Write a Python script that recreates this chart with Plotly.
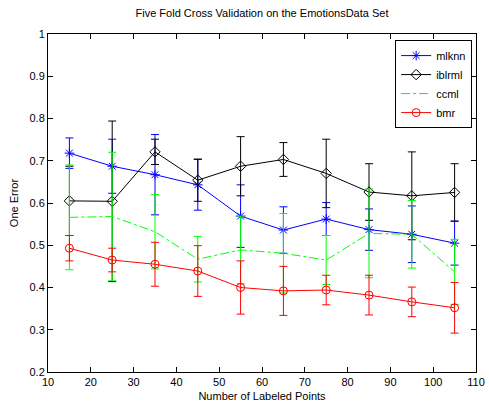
import plotly.graph_objects as go

x_points = [15, 25, 35, 45, 55, 65, 75, 85, 95, 105]

mlknn = [0.718, 0.687, 0.667, 0.643, 0.569, 0.536, 0.562, 0.537, 0.526, 0.505]
mlknn_err = [0.036, 0.064, 0.095, 0.060, 0.074, 0.055, 0.039, 0.049, 0.067, 0.052]

iblrml = [0.605, 0.604, 0.721, 0.654, 0.687, 0.703, 0.670, 0.626, 0.617, 0.625]
iblrml_err = [0.082, 0.190, 0.030, 0.050, 0.070, 0.040, 0.081, 0.067, 0.104, 0.068]

ccml = [0.566, 0.568, 0.532, 0.467, 0.489, 0.481, 0.465, 0.528, 0.526, 0.437]
ccml_err = [0.124, 0.152, 0.088, 0.054, 0.080, 0.094, 0.058, 0.105, 0.080, 0.077]

bmr = [0.493, 0.465, 0.455, 0.439, 0.400, 0.392, 0.394, 0.382, 0.366, 0.352]
bmr_err = [0.030, 0.028, 0.052, 0.060, 0.063, 0.058, 0.035, 0.047, 0.035, 0.060]

y_ticks = [0.2, 0.3, 0.4, 0.5, 0.6, 0.7, 0.8, 0.9, 1.0]
y_ticktext = ["0.2", "0.3", "0.4", "0.5", "0.6", "0.7", "0.8", "0.9", "1"]
x_ticks = [10, 20, 30, 40, 50, 60, 70, 80, 90, 100, 110]

FONT = "Liberation Sans, Arial, Helvetica, sans-serif"

series = [
    ("mlknn", mlknn, mlknn_err, "#0000FF", "solid", "asterisk-open", 8),
    ("iblrml", iblrml, iblrml_err, "#000000", "solid", "diamond-open", 8),
    ("ccml", ccml, ccml_err, "#00FF00", "dashdot", None, 0),
    ("bmr", bmr, bmr_err, "#FF0000", "solid", "circle-open", 8),
]

fig = go.Figure()
for name, vals, errs, color, dash, sym, size in series:
    mode = "lines+markers" if sym else "lines"
    kw = {}
    if sym:
        kw["marker"] = dict(symbol=sym, size=size, color=color,
                            line=dict(color=color, width=1))
    fig.add_trace(go.Scatter(
        x=x_points, y=vals, name=name, mode=mode,
        line=dict(color=color, width=1, dash=dash),
        error_y=dict(type="data", array=errs, visible=True,
                     color=color, thickness=1, width=4),
        **kw,
    ))

axis_common = dict(
    showline=True, linecolor="black", linewidth=1, mirror="allticks",
    ticks="inside", ticklen=5, tickcolor="black", tickwidth=1,
    showgrid=False, zeroline=False, automargin=False,
    tickfont=dict(family=FONT, size=11, color="black"),
)

fig.update_layout(
    width=489, height=407,
    margin=dict(l=48, r=13, t=34, b=35),
    paper_bgcolor="white", plot_bgcolor="white",
    font=dict(family=FONT, size=11, color="black"),
    title=dict(text="Five Fold Cross Validation on the EmotionsData Set",
               x=(48 + 476) / 2 / 489, xanchor="center",
               y=1 - 13 / 407, yanchor="middle", yref="container",
               font=dict(family=FONT, size=11, color="black")),
    xaxis=dict(range=[10, 110], tickvals=x_ticks,
               title=dict(text="Number of Labeled Points", standoff=5,
                          font=dict(family=FONT, size=11, color="black")),
               **axis_common),
    yaxis=dict(range=[0.2, 1.0], tickvals=y_ticks, ticktext=y_ticktext,
               title=dict(text="One Error", standoff=8,
                          font=dict(family=FONT, size=11, color="black")),
               **axis_common),
    legend=dict(x=0.991, y=0.982, xanchor="right", yanchor="top",
                bgcolor="white", bordercolor="black", borderwidth=1,
                font=dict(family=FONT, size=11, color="black"),
                tracegroupgap=0, itemwidth=30),
    showlegend=True,
)

fig.write_html("out.html")
